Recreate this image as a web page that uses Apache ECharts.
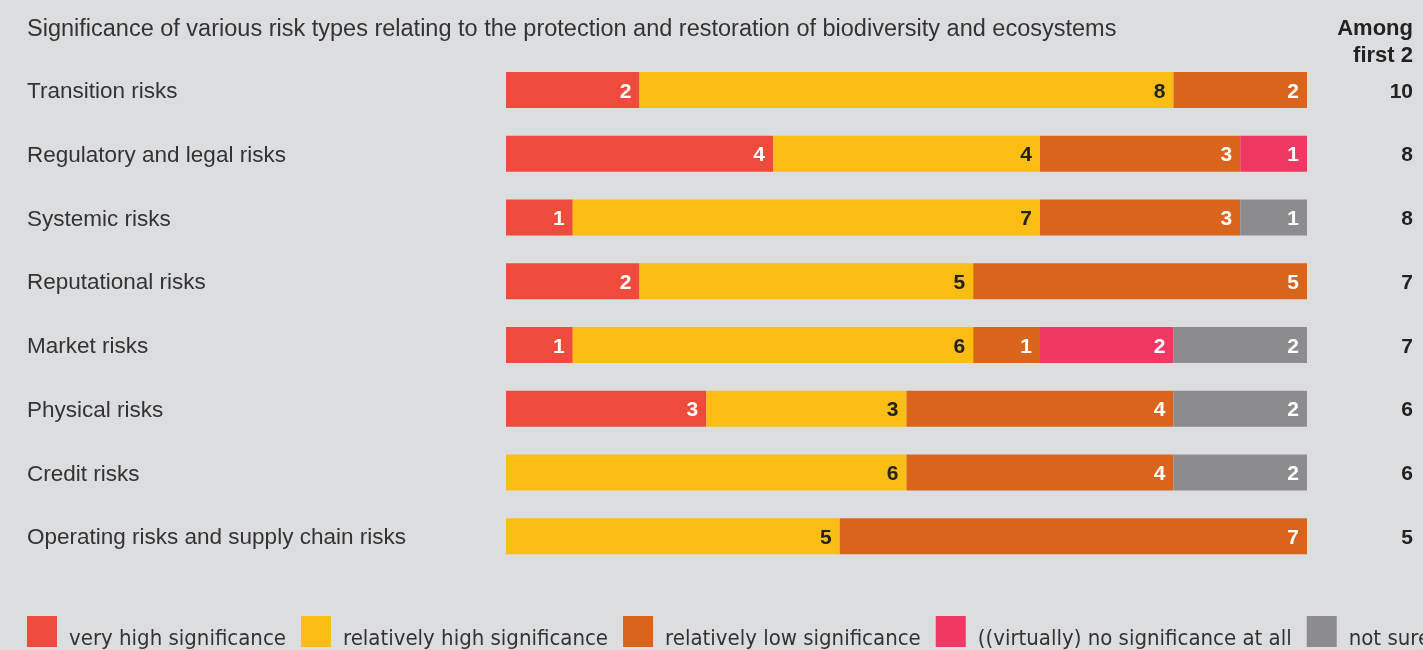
<!DOCTYPE html>
<html>
<head>
<meta charset="utf-8">
<script src="https://cdn.jsdelivr.net/npm/echarts@6/dist/echarts.min.js"></script>
<style>
  html, body { margin: 0; padding: 0; background: #dcdddf; }
  #chart { width: 1423px; height: 650px; }
</style>
</head>
<body>
<div id="chart"></div>
<script>
  const categories = [
    'Transition risks',
    'Regulatory and legal risks',
    'Systemic risks',
    'Reputational risks',
    'Market risks',
    'Physical risks',
    'Credit risks',
    'Operating risks and supply chain risks'
  ];
  const veryHigh = [2, 4, 1, 2, 1, 3, 0, 0];
  const relHigh = [8, 4, 7, 5, 6, 3, 6, 5];
  const relLow = [2, 3, 3, 5, 1, 4, 4, 7];
  const noSig = [0, 1, 0, 0, 2, 0, 0, 0];
  const notSure = [0, 0, 1, 0, 2, 2, 2, 0];
  const amongFirst2 = [10, 8, 8, 7, 7, 6, 6, 5];

  const seriesDefs = [
    { name: 'very high significance', data: veryHigh, color: '#ef4b3c', text: '#fff' },
    { name: 'relatively high significance', data: relHigh, color: '#fbbd14', text: '#222' },
    { name: 'relatively low significance', data: relLow, color: '#d9651d', text: '#fff' },
    { name: '((virtually) no significance at all', data: noSig, color: '#ef3964', text: '#fff' },
    { name: 'not sure', data: notSure, color: '#8c8c8e', text: '#fff' }
  ];

  const font = '"Liberation Sans", Arial, Helvetica, sans-serif';
  const narrow = '"Liberation Sans Narrow", "DejaVu Sans Condensed", sans-serif';

  const chart = echarts.init(document.getElementById('chart'));
  chart.setOption({
    backgroundColor: '#dcdddf',
    animation: false,
    title: [
      {
        text: 'Significance of various risk types relating to the protection and restoration of biodiversity and ecosystems',
        left: 22, top: 13,
        textStyle: { fontFamily: font, fontSize: 23.5, fontWeight: 'normal', color: '#333' }
      }
    ],
    graphic: [
      {
        type: 'text', right: 10, top: 18,
        style: { text: 'Among', font: 'bold 22px ' + font, fill: '#222' }
      },
      {
        type: 'text', right: 10, top: 45,
        style: { text: 'first 2', font: 'bold 22px ' + font, fill: '#222' }
      }
    ],
    legend: {
      left: 22, top: 611, width: 1600,
      itemWidth: 30, itemHeight: 31, itemGap: 15,
      icon: 'rect',
      data: seriesDefs.map(s => s.name),
      formatter: '{t|{name}}',
      textStyle: {
        fontFamily: narrow, fontSize: 22, color: '#333',
        rich: { t: { fontFamily: narrow, fontSize: 22, color: '#333', padding: [16, 0, 0, 7] } }
      }
    },
    grid: { left: 506, right: 116, top: 58, bottom: 82, containLabel: false },
    xAxis: { type: 'value', min: 0, max: 12, show: false },
    yAxis: [
      {
        type: 'category', data: categories, inverse: true,
        axisLine: { show: false }, axisTick: { show: false },
        axisLabel: {
          align: 'left', margin: 479, fontFamily: font, fontSize: 22.5, color: '#333',
          formatter: v => '{c|' + v + '}',
          rich: { c: { fontFamily: font, fontSize: 22.5, color: '#333', padding: [4, 0, 0, 0] } }
        }
      },
      {
        type: 'category', data: amongFirst2, inverse: true, position: 'right',
        axisLine: { show: false }, axisTick: { show: false },
        axisLabel: {
          align: 'right', margin: 106, fontFamily: font, fontSize: 21, fontWeight: 'bold', color: '#222',
          formatter: v => '{n|' + v + '}',
          rich: { n: { fontFamily: font, fontSize: 21, fontWeight: 'bold', color: '#222', padding: [4, 0, 0, 0] } }
        }
      }
    ],
    series: seriesDefs.map(s => ({
      name: s.name,
      type: 'bar',
      stack: 'total',
      barWidth: 36,
      data: s.data,
      itemStyle: { color: s.color },
      label: {
        show: true, position: 'insideRight', distance: 8,
        fontFamily: font, fontSize: 21, fontWeight: 'bold', color: s.text,
        formatter: p => (p.value ? '{v|' + p.value + '}' : ''),
        rich: { v: { fontFamily: font, fontSize: 21, fontWeight: 'bold', color: s.text, padding: [4, 0, 0, 0] } }
      }
    }))
  });
</script>
</body>
</html>
